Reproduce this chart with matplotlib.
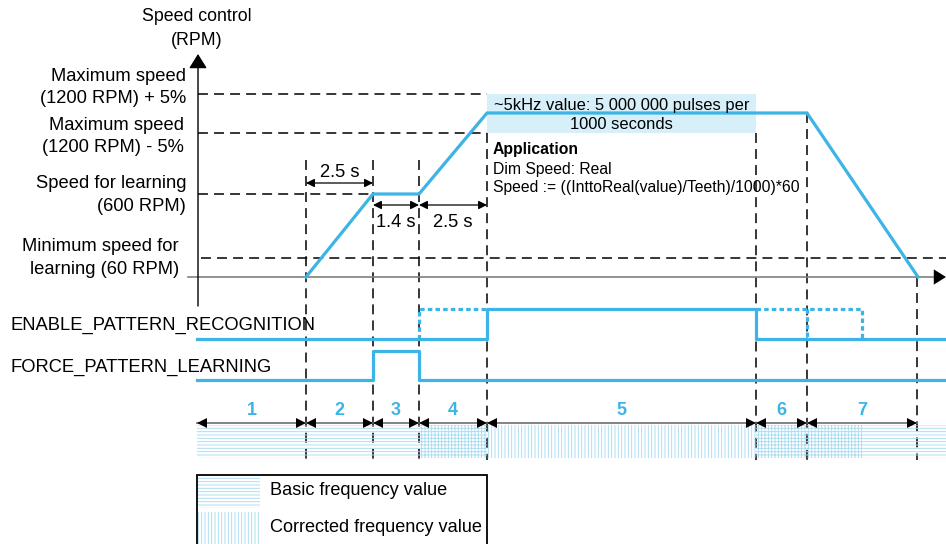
"""Pattern-learning timing diagram: speed profile, control bits and frequency phases."""
import matplotlib
matplotlib.use("Agg")
import matplotlib.pyplot as plt
from matplotlib.patches import Rectangle

plt.rcParams['font.family'] = ['Liberation Sans', 'DejaVu Sans']
plt.rcParams['hatch.linewidth'] = 0.65

BLUE = '#3cb4e5'
HATCH = '#a9dcf1'
BOXFILL = '#d6eff9'
DASH = dict(color='black', lw=1.1, linestyle=(0, (6.5, 4.0)))

# ---- data (diagram time units = x, speed levels above the time axis) ----
phase_edges = [197, 306, 373, 419, 487, 756, 807, 917]
phase_names = ['1', '2', '3', '4', '5', '6', '7']

speed_t = [306, 373, 419, 487, 807, 918]
speed_lvl = [0, 83, 83, 164, 164, 0]

ref_lvl = [183, 144, 83, 19]
ref_end = [487, 487, 373, 946]
ref_labels = [['Maximum speed', '(1200 RPM) + 5%'],
              ['Maximum speed', '(1200 RPM) - 5%'],
              ['Speed for learning', '(600 RPM)'],
              ['Minimum speed for', 'learning (60 RPM)']]

enable_t = [197, 487, 487, 756, 756, 946]
enable_v = [0, 0, 1, 1, 0, 0]
enable_opt = [([419, 419, 487], [0, 1, 1]), ([756, 862, 862], [1, 1, 0]), ([807, 807], [1, 0])]
force_t = [197, 373, 373, 419, 419, 946]
force_v = [0, 0, 1, 1, 0, 0]

freq_spans = [(197, 419, 'basic'), (419, 487, 'both'), (487, 756, 'corrected'),
              (756, 862, 'both'), (862, 946, 'basic')]
freq_hatch = {'basic': '-----', 'corrected': '|||||', 'both': '+++++'}

dims = [(306, 373, 'above', '2.5 s'), (373, 419, 'below', '1.4 s'), (419, 487, 'below', '2.5 s')]

# ---- layout ----
base_y = 277
fig = plt.figure(figsize=(9.46, 5.44), dpi=100)
ax = fig.add_axes([0, 0, 1, 1])
ax.set_xlim(0, 946)
ax.set_ylim(544, 0)
ax.axis('off')


def sy(lvl):
    return base_y - lvl


# axes
ax.plot([188, 936], [base_y, base_y], color='#808080', lw=1.2, zorder=2)
ax.annotate('', xy=(946, base_y), xytext=(930, base_y),
            arrowprops=dict(arrowstyle='-|>,head_length=0.4,head_width=0.25',
                            color='black', lw=0, mutation_scale=22, shrinkA=0, shrinkB=0))
ax.annotate('', xy=(198, 54), xytext=(198, 306),
            arrowprops=dict(arrowstyle='-|>,head_length=0.4,head_width=0.25',
                            color='black', lw=1, mutation_scale=22, shrinkA=0, shrinkB=0))
ax.text(197, 21, 'Speed control', ha='center', va='baseline', fontsize=12.8)
ax.text(197, 45, '(RPM)', ha='center', va='baseline', fontsize=12.8)

# reference speed levels
label_x = [186, 184, 186, 179]
label_base = [(81, 103), (130, 152), (188, 211), (251, 274)]
for lvl, x1, lines, lx, (b1, b2) in zip(ref_lvl, ref_end, ref_labels, label_x, label_base):
    x0 = 201 if lvl < 50 else 198
    ax.plot([x0, x1], [sy(lvl), sy(lvl)], **DASH, zorder=1)
    ax.text(lx, b1, lines[0], ha='right', va='baseline', fontsize=13.2)
    ax.text(lx, b2, lines[1], ha='right', va='baseline', fontsize=13.2)

# vertical event markers
vtop = {306: 160, 373: 160, 419: 160, 487: sy(ref_lvl[1]), 756: sy(ref_lvl[1]),
        807: sy(speed_lvl[-2]), 917: base_y}
for x in phase_edges[1:]:
    ax.plot([x, x], [vtop[x], 460], **DASH, zorder=1)

# info box
bx0, bx1 = phase_edges[4], phase_edges[5]
ax.add_patch(Rectangle((bx0, sy(ref_lvl[0])), bx1 - bx0, ref_lvl[0] - ref_lvl[1],
                       facecolor=BOXFILL, edgecolor='none', zorder=2))
ax.text((bx0 + bx1) / 2, 110, '~5kHz value: 5 000 000 pulses per', ha='center',
        va='baseline', fontsize=11.9, zorder=4)
ax.text((bx0 + bx1) / 2, 129, '1000 seconds', ha='center', va='baseline', fontsize=11.9, zorder=4)
ax.text(493, 154, 'Application', fontweight='bold', va='baseline', fontsize=11.3)
ax.text(493, 174, 'Dim Speed: Real', va='baseline', fontsize=11.3)
ax.text(493, 192, 'Speed := ((InttoReal(value)/Teeth)/1000)*60', va='baseline', fontsize=11.3)

# speed profile
ax.plot(speed_t, [sy(v) for v in speed_lvl], color=BLUE, lw=2.3, zorder=3,
        solid_joinstyle='miter')

# duration dimensions
for x0, x1, pos, txt in dims:
    y = 183 if pos == 'above' else 205
    ax.annotate('', xy=(x1, y), xytext=(x0, y),
                arrowprops=dict(arrowstyle='<|-|>,head_length=0.5,head_width=0.25',
                                color='black', lw=0.9, mutation_scale=10, shrinkA=0, shrinkB=0))
    ax.text((x0 + x1) / 2, 177 if pos == 'above' else 227, txt, ha='center',
            va='baseline', fontsize=13.2)

# control signals
enable_lo, enable_hi = 339, 309
force_lo, force_hi = 380, 351


def sig(vals, lo, hi):
    return [hi if v else lo for v in vals]


ax.plot(enable_t, sig(enable_v, enable_lo, enable_hi), color=BLUE, lw=2.3, zorder=3)
for tt, vv in enable_opt:
    ax.plot(tt, sig(vv, enable_lo, enable_hi), color=BLUE, lw=2.3,
            linestyle=(0, (1.4, 1.0)), zorder=3)
ax.plot(force_t, sig(force_v, force_lo, force_hi), color=BLUE, lw=2.3, zorder=3)
ax.text(10, 330, 'ENABLE_PATTERN_RECOGNITION', va='baseline', fontsize=13.2)
ax.text(10, 372, 'FORCE_PATTERN_LEARNING', va='baseline', fontsize=13.2)

# phases
for x0, x1, kind in freq_spans:
    ax.add_patch(Rectangle((x0, 425), x1 - x0, 33, facecolor='none', edgecolor=HATCH,
                           lw=0, hatch=freq_hatch[kind], zorder=1))
ax.plot([phase_edges[0], phase_edges[-1]], [423, 423], color='#7a7a7a', lw=1.3, zorder=3)
for i, name in enumerate(phase_names):
    x0, x1 = phase_edges[i], phase_edges[i + 1]
    ax.plot([x0 + 5], [423], marker='<', ms=7.5, color='black', mew=0, zorder=4)
    ax.plot([x1 - 5], [423], marker='>', ms=7.5, color='black', mew=0, zorder=4)
    ax.text((x0 + x1) / 2, 415, name, ha='center', va='baseline', fontsize=13,
            fontweight='bold', color=BLUE)

# legend
ax.add_patch(Rectangle((197, 475), 290, 80, facecolor='white', edgecolor='black',
                       lw=1.3, zorder=2))
ax.add_patch(Rectangle((198, 477), 62, 31, facecolor='none', edgecolor=HATCH, lw=0,
                       hatch=freq_hatch['basic'], zorder=3))
ax.add_patch(Rectangle((198, 512), 62, 33, facecolor='none', edgecolor=HATCH, lw=0,
                       hatch=freq_hatch['corrected'], zorder=3))
ax.text(270, 495, 'Basic frequency value', va='baseline', fontsize=13.1, zorder=4)
ax.text(270, 532, 'Corrected frequency value', va='baseline', fontsize=13.1, zorder=4)

fig.savefig('out.png', dpi=100)
